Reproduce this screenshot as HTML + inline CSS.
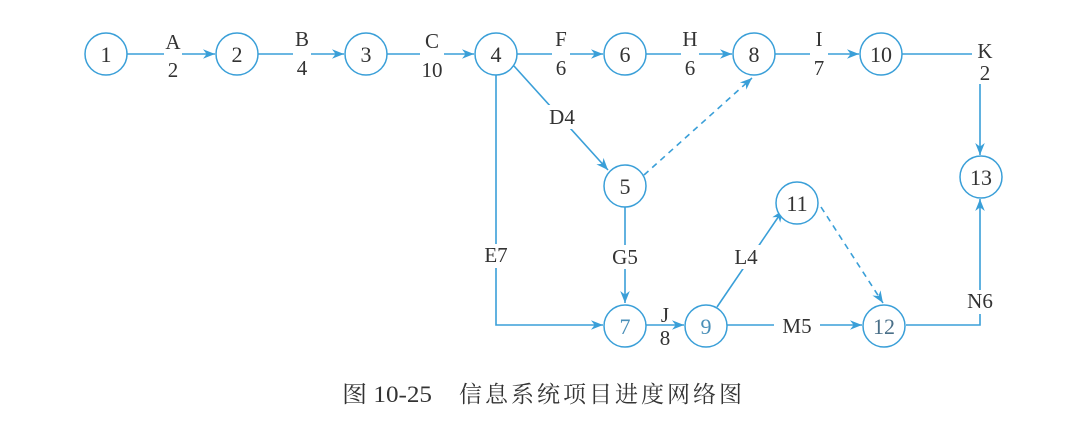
<!DOCTYPE html>
<html><head><meta charset="utf-8"><style>
html,body{margin:0;padding:0;background:#fff;}
svg{display:block;}
text{font-family:"Liberation Serif","Noto Serif CJK SC",serif;fill:#333;}
</style></head><body>
<svg width="1081" height="423" viewBox="0 0 1081 423" xmlns="http://www.w3.org/2000/svg">
<defs>
<marker id="a" viewBox="0 0 10 10" refX="10" refY="5" markerWidth="12" markerHeight="12" orient="auto" markerUnits="userSpaceOnUse"><path d="M0,1 L10,5 L0,9 L3,5 Z" fill="#3a9fd8"/></marker>
</defs>
<g stroke="#3a9fd8" stroke-width="1.6" fill="none">
<line x1="127" y1="54" x2="215" y2="54" marker-end="url(#a)"/>
<line x1="258" y1="54" x2="344" y2="54" marker-end="url(#a)"/>
<line x1="387" y1="54" x2="474" y2="54" marker-end="url(#a)"/>
<line x1="517" y1="54" x2="603" y2="54" marker-end="url(#a)"/>
<line x1="646" y1="54" x2="732" y2="54" marker-end="url(#a)"/>
<line x1="775" y1="54" x2="859" y2="54" marker-end="url(#a)"/>
<polyline points="902,54 980,54 980,155" marker-end="url(#a)"/>
<line x1="514" y1="66" x2="608" y2="170" marker-end="url(#a)"/>
<line x1="644" y1="175" x2="752" y2="78" stroke-dasharray="6,5" marker-end="url(#a)"/>
<polyline points="496,75 496,325 603,325" marker-end="url(#a)"/>
<line x1="625" y1="206" x2="625" y2="303" marker-end="url(#a)"/>
<line x1="646" y1="325" x2="684" y2="325" marker-end="url(#a)"/>
<line x1="717" y1="307" x2="783" y2="210" marker-end="url(#a)"/>
<line x1="821" y1="207" x2="883" y2="303" stroke-dasharray="6,5" marker-end="url(#a)"/>
<line x1="727" y1="325" x2="862" y2="325" marker-end="url(#a)"/>
<polyline points="906,325 980,325 980,199" marker-end="url(#a)"/>
</g>
<g stroke="#3a9fd8" stroke-width="1.5" fill="#fff">
<circle cx="106" cy="54" r="21"/><circle cx="237" cy="54" r="21"/><circle cx="366" cy="54" r="21"/>
<circle cx="496" cy="54" r="21"/><circle cx="625" cy="54" r="21"/><circle cx="754" cy="54" r="21"/>
<circle cx="881" cy="54" r="21"/><circle cx="981" cy="177" r="21"/><circle cx="625" cy="186" r="21"/>
<circle cx="797" cy="203" r="21"/><circle cx="625" cy="326" r="21"/><circle cx="706" cy="326" r="21"/>
<circle cx="884" cy="326" r="21"/>
</g>
<g font-size="22" text-anchor="middle">
<text x="106" y="62">1</text><text x="237" y="62">2</text><text x="366" y="62">3</text>
<text x="496" y="62">4</text><text x="625" y="62">6</text><text x="754" y="62">8</text>
<text x="881" y="62">10</text><text x="981" y="185">13</text><text x="625" y="194">5</text>
<text x="797" y="211">11</text><text x="625" y="334" style="fill:#4a8fb8">7</text><text x="706" y="334" style="fill:#4a8fb8">9</text>
<text x="884" y="334" style="fill:#4a6f88">12</text>
</g>
<g font-size="21" text-anchor="middle">
<rect x="164" y="44" width="18" height="20" fill="#fff"/>
<text x="173" y="49">A</text><text x="173" y="77">2</text>
<rect x="293" y="44" width="18" height="20" fill="#fff"/>
<text x="302" y="46">B</text><text x="302" y="75">4</text>
<rect x="420" y="44" width="24" height="20" fill="#fff"/>
<text x="432" y="48">C</text><text x="432" y="77">10</text>
<rect x="552" y="44" width="18" height="20" fill="#fff"/>
<text x="561" y="46">F</text><text x="561" y="75">6</text>
<rect x="681" y="44" width="18" height="20" fill="#fff"/>
<text x="690" y="46">H</text><text x="690" y="75">6</text>
<rect x="810" y="44" width="18" height="20" fill="#fff"/>
<text x="819" y="46">I</text><text x="819" y="75">7</text>
<rect x="972" y="44" width="26" height="40" fill="#fff"/>
<text x="985" y="58">K</text><text x="985" y="80">2</text>
<rect x="545" y="105" width="34" height="24" fill="#fff"/>
<text x="562" y="124">D4</text>
<rect x="478" y="244" width="36" height="24" fill="#fff"/>
<text x="496" y="262">E7</text>
<rect x="606" y="245" width="38" height="24" fill="#fff"/>
<text x="625" y="264">G5</text>
<rect x="728" y="245" width="36" height="24" fill="#fff"/>
<text x="746" y="264">L4</text>
<rect x="774" y="314" width="46" height="24" fill="#fff"/>
<text x="797" y="333">M5</text>
<rect x="960" y="290" width="40" height="24" fill="#fff"/>
<text x="980" y="308">N6</text>
<text x="665" y="322">J</text><text x="665" y="345">8</text>
</g>
<text x="342" y="402" font-size="23" textLength="90" lengthAdjust="spacingAndGlyphs">图 10-25</text>
<text x="459" y="402" font-size="23" textLength="283" lengthAdjust="spacing">信息系统项目进度网络图</text>
</svg>
</body></html>
